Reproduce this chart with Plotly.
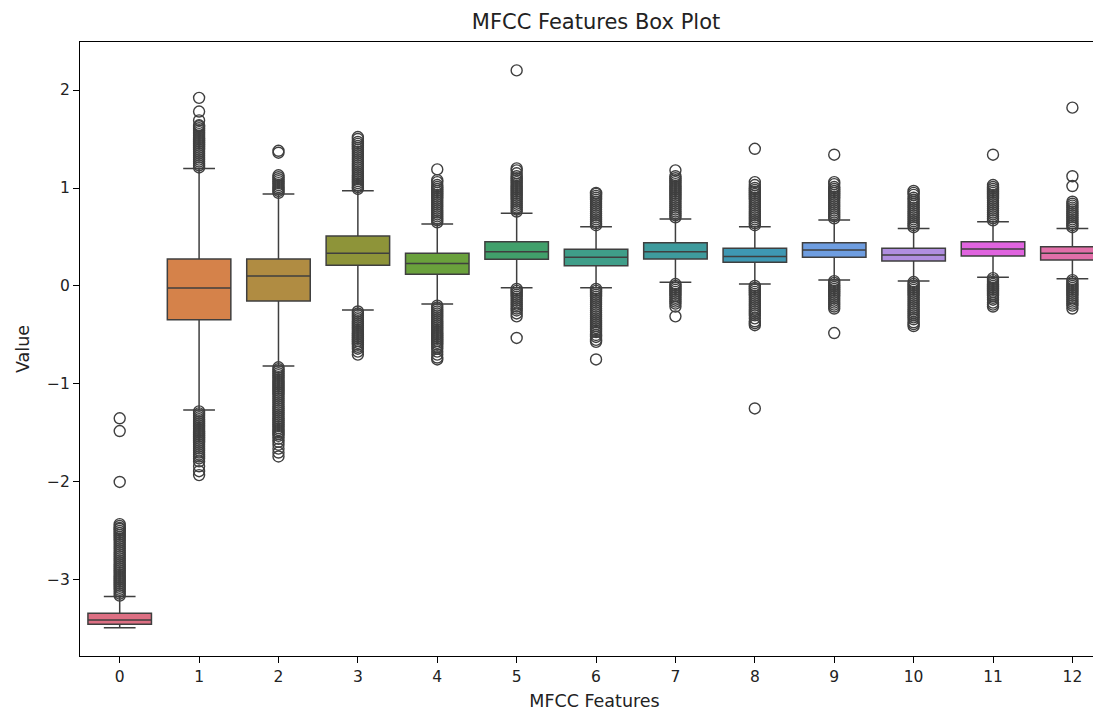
import plotly.graph_objects as go

features = ["0", "1", "2", "3", "4", "5", "6", "7", "8", "9", "10", "11", "12"]

q1 = [-3.452, -0.344, -0.153, 0.211, 0.119, 0.272, 0.207, 0.276, 0.242, 0.293, 0.255, 0.306, 0.265]
median = [-3.408, -0.020, 0.102, 0.333, 0.230, 0.350, 0.293, 0.350, 0.300, 0.367, 0.316, 0.378, 0.333]
q3 = [-3.340, 0.276, 0.276, 0.510, 0.333, 0.452, 0.374, 0.442, 0.384, 0.442, 0.384, 0.452, 0.401]
lower_fence = [-3.487, -1.265, -0.816, -0.245, -0.184, -0.017, -0.017, 0.037, 0.020, 0.061, 0.051, 0.089, 0.075]
upper_fence = [-3.170, 1.200, 0.940, 0.973, 0.633, 0.742, 0.605, 0.684, 0.605, 0.673, 0.588, 0.656, 0.588]

colors = ["#dd6f83", "#d5824a", "#b08c42", "#8e9439", "#6aa13c", "#41a06b", "#3f9e89",
          "#3e9b9d", "#3e98b3", "#6e9de0", "#b08ee0", "#e064df", "#e26fa9"]

out_0 = [-3.16, -3.14, -3.12, -3.10, -3.08, -3.06, -3.04, -3.02, -3.00, -2.98, -2.96, -2.94, -2.92,
         -2.90, -2.88, -2.86, -2.84, -2.82, -2.80, -2.78, -2.76, -2.74, -2.72, -2.70, -2.68, -2.66,
         -2.64, -2.62, -2.60, -2.58, -2.56, -2.54, -2.52, -2.50, -2.48, -2.47, -2.45, -2.43,
         -2.00, -1.48, -1.35]
out_1 = [1.21, 1.23, 1.25, 1.27, 1.29, 1.31, 1.33, 1.35, 1.37, 1.39, 1.41, 1.43, 1.45, 1.47, 1.49,
         1.51, 1.53, 1.55, 1.57, 1.59, 1.61, 1.63, 1.64, 1.69, 1.78, 1.92,
         -1.28, -1.30, -1.32, -1.34, -1.36, -1.38, -1.40, -1.42, -1.44, -1.46, -1.48, -1.50, -1.52,
         -1.54, -1.56, -1.58, -1.60, -1.62, -1.64, -1.66, -1.68, -1.70, -1.72, -1.74, -1.76, -1.79,
         -1.84, -1.89, -1.93]
out_2 = [0.95, 0.97, 0.99, 1.01, 1.03, 1.05, 1.07, 1.09, 1.11, 1.13, 1.36, 1.38,
         -0.83, -0.85, -0.87, -0.89, -0.91, -0.93, -0.95, -0.97, -0.99, -1.01, -1.03, -1.05, -1.07,
         -1.09, -1.11, -1.13, -1.15, -1.17, -1.19, -1.21, -1.23, -1.25, -1.27, -1.29, -1.31, -1.33,
         -1.35, -1.37, -1.39, -1.41, -1.43, -1.45, -1.47, -1.49, -1.51, -1.53, -1.56, -1.59, -1.62,
         -1.66, -1.70, -1.74]
out_3 = [0.99, 1.01, 1.03, 1.05, 1.07, 1.09, 1.11, 1.13, 1.15, 1.17, 1.19, 1.21, 1.23, 1.25, 1.27,
         1.29, 1.31, 1.33, 1.35, 1.37, 1.39, 1.41, 1.43, 1.45, 1.47, 1.50, 1.52,
         -0.26, -0.28, -0.30, -0.32, -0.34, -0.36, -0.38, -0.40, -0.42, -0.44, -0.46, -0.48, -0.50,
         -0.52, -0.54, -0.56, -0.58, -0.60, -0.62, -0.64, -0.67, -0.70]
out_4 = [0.65, 0.67, 0.69, 0.71, 0.73, 0.75, 0.77, 0.79, 0.81, 0.83, 0.85, 0.87, 0.89, 0.91, 0.93,
         0.95, 0.97, 0.99, 1.01, 1.03, 1.06, 1.08, 1.19,
         -0.20, -0.22, -0.24, -0.26, -0.28, -0.30, -0.32, -0.34, -0.36, -0.38, -0.40, -0.42, -0.44,
         -0.46, -0.48, -0.50, -0.52, -0.54, -0.56, -0.58, -0.60, -0.62, -0.64, -0.67, -0.70, -0.73,
         -0.75]
out_5 = [0.76, 0.78, 0.80, 0.82, 0.84, 0.86, 0.88, 0.90, 0.92, 0.94, 0.96, 0.98, 1.00, 1.02, 1.04,
         1.06, 1.08, 1.10, 1.12, 1.15, 1.18, 1.20, 2.20,
         -0.03, -0.05, -0.07, -0.09, -0.11, -0.13, -0.15, -0.17, -0.19, -0.21, -0.23, -0.25, -0.28,
         -0.31, -0.53]
out_6 = [0.62, 0.64, 0.66, 0.68, 0.70, 0.72, 0.74, 0.76, 0.78, 0.80, 0.82, 0.84, 0.86, 0.88, 0.90,
         0.92, 0.94, 0.95,
         -0.03, -0.05, -0.07, -0.09, -0.11, -0.13, -0.15, -0.17, -0.19, -0.21, -0.23, -0.25, -0.27,
         -0.29, -0.31, -0.33, -0.35, -0.37, -0.39, -0.41, -0.43, -0.45, -0.47, -0.50, -0.52, -0.55,
         -0.57, -0.75]
out_7 = [0.70, 0.72, 0.74, 0.76, 0.78, 0.80, 0.82, 0.84, 0.86, 0.88, 0.90, 0.92, 0.94, 0.96, 0.98,
         1.00, 1.02, 1.04, 1.06, 1.08, 1.10, 1.12, 1.18,
         0.02, 0.00, -0.02, -0.04, -0.06, -0.08, -0.10, -0.12, -0.14, -0.16, -0.18, -0.21, -0.31]
out_8 = [0.62, 0.64, 0.66, 0.68, 0.70, 0.72, 0.74, 0.76, 0.78, 0.80, 0.82, 0.84, 0.86, 0.88, 0.90,
         0.92, 0.94, 0.96, 0.98, 1.00, 1.03, 1.06, 1.40,
         0.00, -0.02, -0.04, -0.06, -0.08, -0.10, -0.12, -0.14, -0.16, -0.18, -0.20, -0.22, -0.24,
         -0.26, -0.28, -0.30, -0.33, -0.36, -0.38, -0.40, -1.25]
out_9 = [0.69, 0.71, 0.73, 0.75, 0.77, 0.79, 0.81, 0.83, 0.85, 0.87, 0.89, 0.91, 0.93, 0.95, 0.97,
         0.99, 1.01, 1.04, 1.06, 1.34,
         0.05, 0.03, 0.01, -0.01, -0.03, -0.05, -0.07, -0.09, -0.11, -0.13, -0.15, -0.17, -0.19,
         -0.21, -0.23, -0.48]
out_10 = [0.60, 0.62, 0.64, 0.66, 0.68, 0.70, 0.72, 0.74, 0.76, 0.78, 0.80, 0.82, 0.84, 0.86, 0.88,
          0.90, 0.93, 0.95, 0.97,
          0.04, 0.02, 0.00, -0.02, -0.04, -0.06, -0.08, -0.10, -0.12, -0.14, -0.16, -0.18, -0.20,
          -0.22, -0.24, -0.26, -0.28, -0.30, -0.32, -0.34, -0.37, -0.39, -0.41]
out_11 = [0.67, 0.69, 0.71, 0.73, 0.75, 0.77, 0.79, 0.81, 0.83, 0.85, 0.87, 0.89, 0.91, 0.93, 0.95,
          0.97, 0.99, 1.01, 1.03, 1.34,
          0.08, 0.06, 0.04, 0.02, 0.00, -0.02, -0.04, -0.06, -0.08, -0.10, -0.12, -0.14, -0.17,
          -0.19, -0.21]
out_12 = [0.60, 0.62, 0.64, 0.66, 0.68, 0.70, 0.72, 0.74, 0.76, 0.78, 0.80, 0.82, 0.84, 0.86,
          1.02, 1.12, 1.82,
          0.06, 0.04, 0.02, 0.00, -0.02, -0.04, -0.06, -0.08, -0.10, -0.12, -0.14, -0.16, -0.18,
          -0.20, -0.23]

outliers = [out_0, out_1, out_2, out_3, out_4, out_5, out_6, out_7, out_8, out_9, out_10, out_11, out_12]

LINE = "#3f3f3f"
FIG_W, FIG_H = 1101, 705

fig = go.Figure()

for i, name in enumerate(features):
    fig.add_trace(go.Box(
        x=[i], q1=[q1[i]], median=[median[i]], q3=[q3[i]],
        lowerfence=[lower_fence[i]], upperfence=[upper_fence[i]],
        width=0.8, whiskerwidth=0.5, fillcolor=colors[i],
        line=dict(color=LINE, width=1.5), boxpoints=False,
        name=name, showlegend=False, hoverinfo="skip",
    ))

for i, vals in enumerate(outliers):
    fig.add_trace(go.Scatter(
        x=[i] * len(vals), y=vals, mode="markers",
        marker=dict(symbol="circle", size=11, color="rgba(0,0,0,0)",
                    line=dict(color=LINE, width=1.4)),
        showlegend=False, hoverinfo="skip",
    ))

fig.update_layout(
    width=FIG_W, height=FIG_H,
    margin=dict(l=72, r=0, t=34, b=57),
    paper_bgcolor="white", plot_bgcolor="white",
    font=dict(family="DejaVu Sans", size=15, color="#222222"),
    boxmode="overlay",
    title=dict(text="MFCC Features Box Plot", x=588 / FIG_W, xref="container", xanchor="center",
               y=1 - 14 / FIG_H, yref="container", yanchor="middle",
               font=dict(size=21, color="#222222")),
    xaxis=dict(
        range=[-0.5, 12.461], tickmode="array", tickvals=list(range(13)), ticktext=features,
        showgrid=False, zeroline=False, showline=True, linecolor="black", linewidth=1,
        mirror=True, ticks="outside", ticklen=6, tickcolor="black",
        tickfont=dict(size=15.5),
        title=dict(text="MFCC Features", standoff=10, font=dict(size=17.5)),
    ),
    yaxis=dict(
        range=[-3.776, 2.49], tickvals=[-3, -2, -1, 0, 1, 2],
        ticktext=["\u22123", "\u22122", "\u22121", "0", "1", "2"],
        showgrid=False, zeroline=False, showline=True, linecolor="black", linewidth=1,
        ticks="outside", ticklen=6, tickcolor="black",
        tickfont=dict(size=15.5),
        title=dict(text="Value", standoff=12, font=dict(size=17.5)),
    ),
)

fig.write_html("out.html")
